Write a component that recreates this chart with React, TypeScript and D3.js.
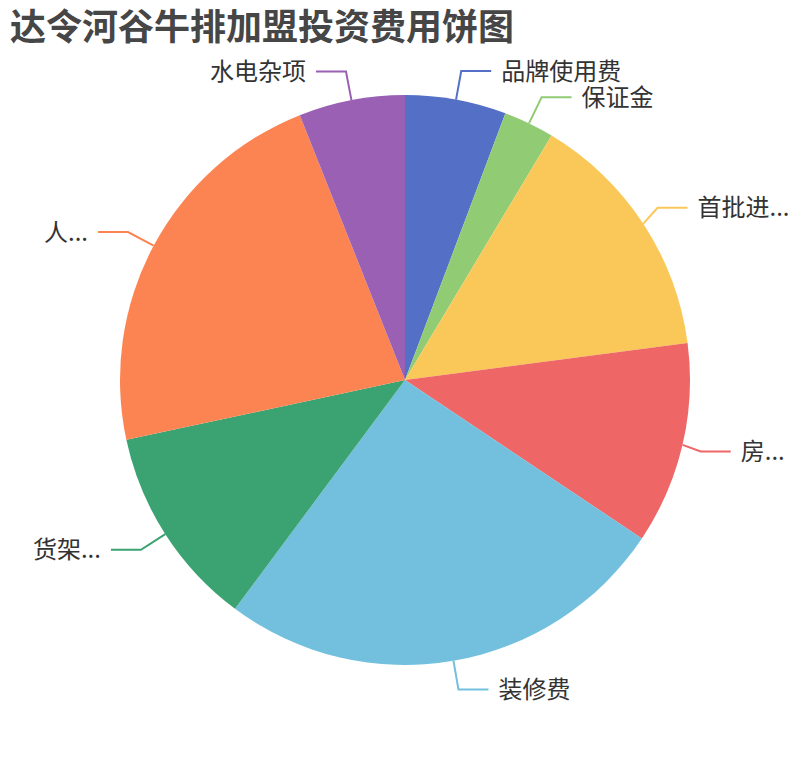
import React, { useRef, useEffect } from 'react';
import * as d3 from 'd3';

const title = '达令河谷牛排加盟投资费用饼图';
const labels = ['品牌使用费', '保证金', '首批进...', '房...', '装修费', '货架...', '人...', '水电杂项'];
const values = [2, 1, 5, 4, 9, 4, 7.8, 2.1];
const colors = ['#5470c6', '#91cc75', '#fac858', '#ee6666', '#73c0de', '#3ba272', '#fc8452', '#9a60b4'];

const App: React.FC = () => {
  const svgRef = useRef<SVGSVGElement>(null);

  useEffect(() => {
    const svg = d3.select(svgRef.current);
    svg.selectAll('*').remove();

    const width = 810;
    const height = 760;
    const cx = 405;
    const cy = 380;
    const radius = 285;
    const len1 = 29;
    const len2 = 30;
    const font = '"Noto Sans CJK SC", "Noto Sans", sans-serif';

    svg.append('rect').attr('width', width).attr('height', height).attr('fill', '#fff');

    svg.append('text')
      .attr('x', 10)
      .attr('y', 40)
      .attr('font-family', font)
      .attr('font-size', 36)
      .attr('font-weight', 'bold')
      .attr('fill', '#464646')
      .text(title);

    const pie = d3.pie<number>().sort(null).value(d => d);
    const arcs = pie(values);
    const arc = d3.arc<d3.PieArcDatum<number>>().innerRadius(0).outerRadius(radius);

    const g = svg.append('g').attr('transform', `translate(${cx},${cy})`);

    g.selectAll('path.slice')
      .data(arcs)
      .join('path')
      .attr('class', 'slice')
      .attr('d', arc)
      .attr('fill', (_, i) => colors[i]);

    const pt = (a: number, r: number): [number, number] => [Math.sin(a) * r, -Math.cos(a) * r];

    arcs.forEach((d, i) => {
      const mid = (d.startAngle + d.endAngle) / 2;
      const p1 = pt(mid, radius);
      const p2 = pt(mid, radius + len1);
      const right = p2[0] >= 0;
      // truncated labels on the right get pulled in a bit (like echarts does)
      if (right && labels[i].endsWith('...')) p2[0] -= 10;
      const p3: [number, number] = [p2[0] + (right ? len2 : -len2), p2[1]];

      g.append('path')
        .attr('d', d3.line()([p1, p2, p3]))
        .attr('fill', 'none')
        .attr('stroke', colors[i])
        .attr('stroke-width', 2);

      g.append('text')
        .attr('x', p3[0] + (right ? 10 : -10))
        .attr('y', p3[1] - 2)
        .attr('text-anchor', right ? 'start' : 'end')
        .attr('dominant-baseline', 'central')
        .attr('font-family', font)
        .attr('font-size', 24)
        .attr('fill', '#333')
        .text(labels[i]);
    });
  }, []);

  return (
    <svg
      ref={svgRef}
      width="810"
      height="760"
      style={{ position: 'absolute', left: 0, top: 0 }}
    ></svg>
  );
};

export default App;
